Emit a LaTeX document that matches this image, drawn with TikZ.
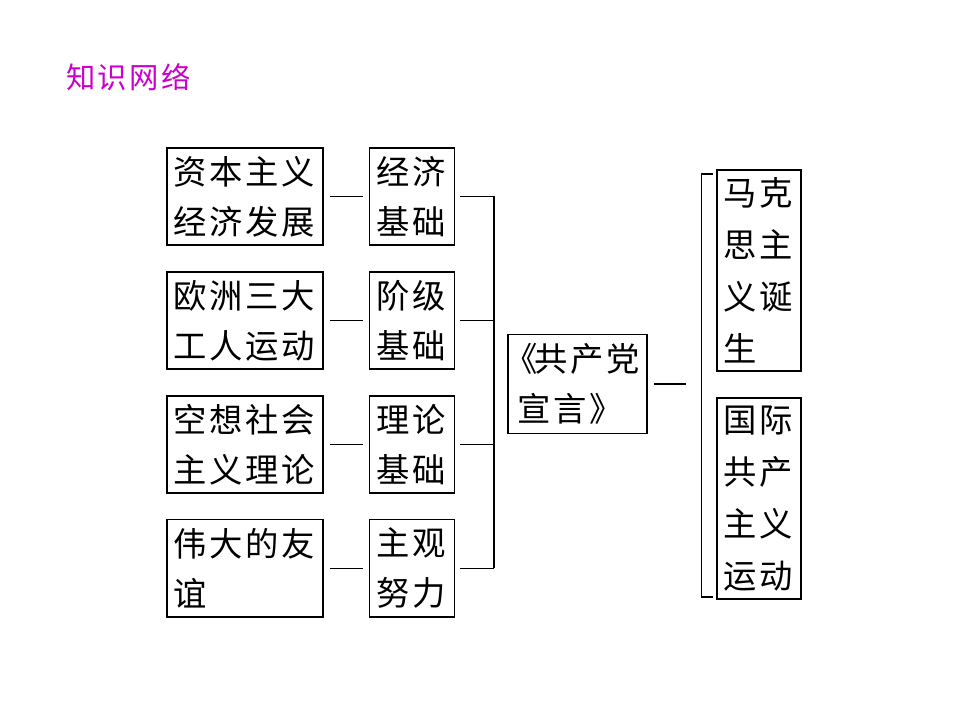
\documentclass[tikz,border=0pt]{standalone}
\usepackage{fontspec}
\usepackage{xcolor}
\usepackage{tikz}
\usetikzlibrary{positioning}
\newfontfamily\cjk[LetterSpace=8]{Noto Sans CJK SC}
\definecolor{heading}{HTML}{CC00CC}

\begin{document}
\begin{tikzpicture}[
        x=0.75pt, y=-0.75pt,
        box/.style={
            draw,
            line width=1.2pt,
            font=\cjk\fontsize{25}{37.5}\selectfont,
            align=left,
            inner ysep=0pt
        },
        cause/.style={
            box,
            text width=108pt,
            inner xsep=4.5pt,
            minimum height=73pt
        },
        basis/.style={
            box,
            text width=54pt,
            inner xsep=4.9pt,
            minimum height=73pt
        },
        result/.style={
            box,
            text width=54pt,
            inner xsep=4.5pt,
            minimum height=151pt,
            font=\cjk\fontsize{25}{39}\selectfont
        },
        link/.style={line width=0.8pt},
        brace/.style={line width=1.1pt},
        node distance=18.75pt and 33.75pt
    ]

    \useasboundingbox (0,0) rectangle (960,720);

    \node[anchor=west, text=heading, font=\cjk\fontsize{22}{26}\selectfont,
          inner sep=0pt] (title) at (66,77) {知识网络};

    \node[cause] (capital) at (245,196.5) {资本主义\\经济发展};
    \node[cause, below=of capital] (workers) {欧洲三大\\工人运动};
    \node[cause, below=of workers] (utopia) {空想社会\\主义理论};
    \node[cause, below=of utopia] (friend) {伟大的友\\谊};

    \node[basis, right=of capital] (econ) {经济\\基础};
    \node[basis, right=of workers] (class) {阶级\\基础};
    \node[basis, right=of utopia] (theory) {理论\\基础};
    \node[basis, right=of friend] (effort) {主观\\努力};

    \node[box, text width=90pt, inner xsep=7.1pt, minimum height=74pt]
        (manifesto) at (577.5,384) {\kern-0.4em《\kern-0.1em共产党\\宣言》};

    \node[result] (birth) at (759,270.5) {马克\\思主\\义诞\\生};
    \node[result, below=of birth] (movement) {国际\\共产\\主义\\运动};

    % short links between the two left columns
    \foreach \a/\b in {capital/econ, workers/class, utopia/theory, friend/effort}
        \draw[link] ([xshift=4.5pt]\a.east) -- ([xshift=-4.5pt]\b.west);

    % bracket gathering the four bases
    \coordinate (spineTop) at ([xshift=29pt]econ.east);
    \coordinate (spineBot) at ([xshift=29pt]effort.east);
    \draw[brace] (spineTop) -- (spineBot);
    \foreach \b in {econ, class, theory, effort}
        \draw[link] ([xshift=3.75pt]\b.east) -- (\b.east -| spineTop);

    % bracket over the two results
    \coordinate (rightTop) at ([xshift=-11pt,yshift=-3.75pt]birth.north west);
    \coordinate (rightBot) at ([xshift=-11pt,yshift=2.25pt]movement.south west);
    \draw[brace] ([xshift=8.25pt]rightTop) -- (rightTop) -- (rightBot)
        -- ([xshift=8.25pt]rightBot);
    \draw[link] ([xshift=4.5pt]manifesto.east) -- ++(24pt,0);

\end{tikzpicture}
\end{document}
